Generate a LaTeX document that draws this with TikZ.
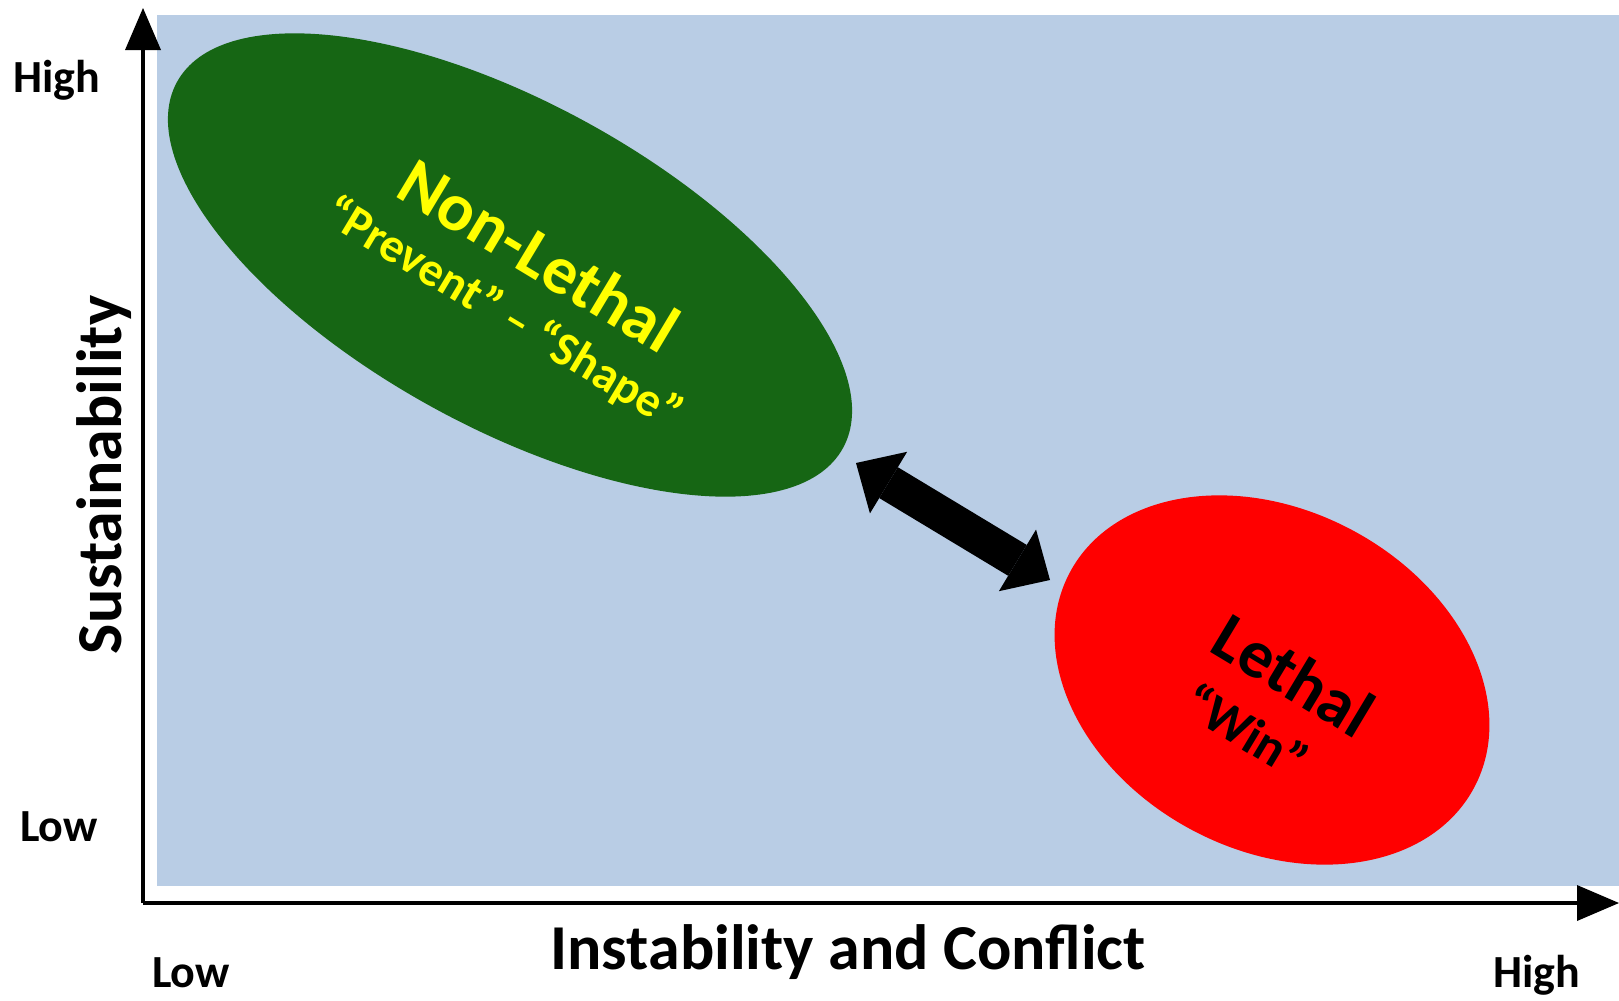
\documentclass[tikz,border=0pt]{standalone}
\usepackage{fontspec}
\setmainfont{Carlito}
\usetikzlibrary{shapes.geometric,arrows.meta}

\definecolor{plotblue}{RGB}{185,205,229}
\definecolor{nlgreen}{RGB}{22,102,20}
\definecolor{lred}{RGB}{255,0,0}
\definecolor{lyellow}{RGB}{255,255,0}

\begin{document}
\begin{tikzpicture}[x=0.5pt,y=0.5pt,yscale=-1,xscale=1,
    axis/.style={line width=2pt,-{Triangle[length=21pt,width=18pt,line width=0pt]}},
    blob/.style={ellipse,draw=none,inner sep=0pt,outer sep=0pt},
    twoway/.style={line width=18pt,{Triangle[length=19pt,width=36pt,line width=0pt]}-{Triangle[length=19pt,width=36pt,line width=0pt]}},
    ticklbl/.style={inner sep=0.75pt,font=\bfseries\fontsize{23}{28}\selectfont},
    axislbl/.style={inner sep=0.75pt,font=\bfseries\fontsize{32}{38}\selectfont},
    zonelbl/.style={inner sep=0.75pt,rotate=-31,font=\bfseries\fontsize{34}{40}\selectfont},
    zonesub/.style={inner sep=0.75pt,rotate=-31,font=\bfseries\fontsize{24}{29}\selectfont}]
        \useasboundingbox (0,0) rectangle (1619,1001);

        %Shape: Rectangle [plot area]
        \fill [plotblue] (157,15) rectangle (1619,886);

        %Straight Lines [axes]
        \coordinate (orig) at (143,903);
        \coordinate (ytop) at (143,8);
        \coordinate (xend) at (1619,903);
        \draw [axis] (orig) -- (ytop);
        \draw [axis] (orig) -- (xend);

        %Shape: Ellipse [non-lethal]
        \node [blob,fill=nlgreen,minimum width=380pt,minimum height=162pt,rotate=-28.8] (green) at (510,265) {};
        %Shape: Ellipse [lethal]
        \node [blob,fill=lred,minimum width=229pt,minimum height=170pt,rotate=-28] (redzone) at (1272,680) {};

        %Double Arrow
        \coordinate (arrA) at (856,463);
        \coordinate (arrB) at (1050,580);
        \draw [twoway] (arrA) -- (arrB);

        % Text Node
        \node [zonelbl,text=lyellow] (nonlethal) at (539,255) {Non-Lethal};
        % Text Node
        \node [zonesub,text=lyellow] (prevshape) at (503,314) {“Prevent” – “Shape”};
        % Text Node
        \node [zonelbl] (lethal) at (1294,675) {Lethal};
        % Text Node
        \node [zonesub,font=\bfseries\fontsize{26}{31}\selectfont] (win) at (1247,730) {“Win”};

        % Text Node
        \node [ticklbl] (yhigh) at (57,80) {High};
        % Text Node
        \node [ticklbl] (ylow) at (59,827) {Low};
        % Text Node
        \node [ticklbl] (xlow) at (191,973) {Low};
        % Text Node
        \node [ticklbl] (xhigh) at (1537,975) {High};
        % Text Node
        \node [axislbl,rotate=90] (ytitle) at (104,475) {Sustainability};
        % Text Node
        \node [axislbl] (xtitle) at (848,952) {Instability and Conflict};

\end{tikzpicture}
\end{document}
